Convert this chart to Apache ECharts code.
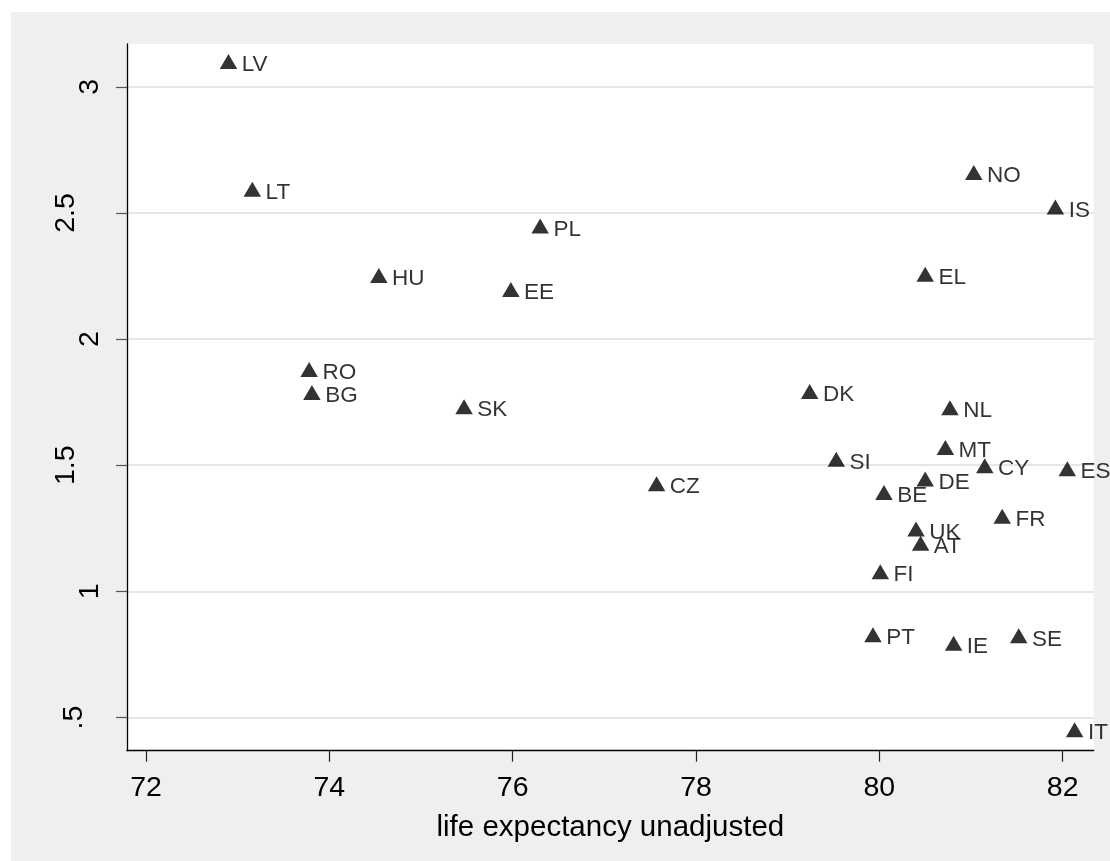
<!DOCTYPE html>
<html>
<head>
<meta charset="utf-8">
<script src="https://cdn.jsdelivr.net/npm/echarts@6/dist/echarts.min.js"></script>
<style>
  html, body { margin: 0; padding: 0; background: #ffffff; }
  #chart { position: absolute; left: 11px; top: 12px; width: 1099px; height: 849px; }
</style>
</head>
<body>
<div id="chart"></div>
<script>
// Country codes with life expectancy (x) and the plotted indicator (y)
const countries = ['LV','LT','HU','EE','PL','RO','BG','SK','CZ','DK','SI','NO','IS','EL','NL','MT','CY','ES','DE','BE','FR','UK','AT','FI','PT','IE','SE','IT'];
const lifeExpectancy = [72.90,73.16,74.54,75.98,76.30,73.78,73.81,75.47,77.57,79.24,79.53,81.03,81.92,80.50,80.77,80.72,81.15,82.05,80.50,80.05,81.34,80.40,80.45,80.01,79.93,80.81,81.52,82.13];
const yValues = [3.100,2.594,2.252,2.197,2.448,1.879,1.788,1.732,1.427,1.792,1.524,2.660,2.524,2.257,1.728,1.570,1.498,1.486,1.445,1.392,1.298,1.247,1.191,1.078,0.828,0.794,0.824,0.452];

// Axis ticks and their printed labels
const xTicks = [72, 74, 76, 78, 80, 82];
const yTicks = [0.5, 1, 1.5, 2, 2.5, 3];
const yTickLabels = ['.5', '1', '1.5', '2', '2.5', '3'];

const FONT = '"Liberation Sans", Arial, sans-serif';

// Rotated y labels sit further from the axis the longer the string is
const yLabelRich = {};
yTickLabels.forEach(function (lab, i) {
  const extra = lab.length >= 3 ? 24 : (lab.length === 2 ? 16 : 0);
  yLabelRich['t' + i] = {
    fontSize: 28.5,
    fontFamily: FONT,
    color: '#000000',
    padding: [0, 0, extra, 0]
  };
});

const points = countries.map((c, i) => [lifeExpectancy[i], yValues[i], c]);

const chart = echarts.init(document.getElementById('chart'), null, { renderer: 'canvas' });

chart.setOption({
  animation: false,
  backgroundColor: '#efefef',
  grid: {
    left: 116,
    top: 32,
    width: 966.7,
    height: 706.7,
    show: true,
    backgroundColor: '#ffffff',
    borderWidth: 0,
    containLabel: false
  },
  xAxis: {
    type: 'value',
    min: 71.793,
    max: 82.338,
    axisLine: { show: true, onZero: false, lineStyle: { color: '#000000', width: 1.3 } },
    axisTick: { show: true, customValues: xTicks, length: 11, lineStyle: { color: '#222222', width: 1.2 } },
    axisLabel: {
      customValues: xTicks,
      margin: 23,
      color: '#000000',
      fontSize: 28.5,
      fontFamily: FONT
    },
    splitLine: { show: false },
    name: 'life expectancy unadjusted',
    nameLocation: 'middle',
    nameGap: 62,
    nameTextStyle: { color: '#000000', fontSize: 29.5, fontFamily: FONT }
  },
  yAxis: {
    type: 'value',
    min: 0.3686,
    max: 3.1696,
    axisLine: { show: true, onZero: false, lineStyle: { color: '#000000', width: 1.3 } },
    axisTick: { show: true, customValues: yTicks, length: 11, lineStyle: { color: '#555555', width: 1.2 } },
    axisLabel: {
      customValues: yTicks,
      rotate: 90,
      margin: 22,
      color: '#000000',
      fontSize: 28.5,
      fontFamily: FONT,
      rich: yLabelRich,
      formatter: function (v) {
        for (let i = 0; i < yTicks.length; i++) {
          if (Math.abs(yTicks[i] - v) < 1e-9) return '{t' + i + '|' + yTickLabels[i] + '}';
        }
        return '';
      }
    },
    splitLine: { show: true, lineStyle: { color: '#e6e6e6', width: 2 } }
  },
  series: [{
    type: 'scatter',
    data: points,
    symbol: 'triangle',
    symbolSize: [17.5, 15],
    itemStyle: { color: '#000000' },
    label: {
      show: true,
      position: 'right',
      distance: 4.5,
      offset: [0, 3.5],
      color: '#000000',
      fontSize: 22.5,
      fontFamily: FONT,
      formatter: function (p) { return p.data[2]; }
    },
    emphasis: { disabled: true }
  }]
});
</script>
</body>
</html>
